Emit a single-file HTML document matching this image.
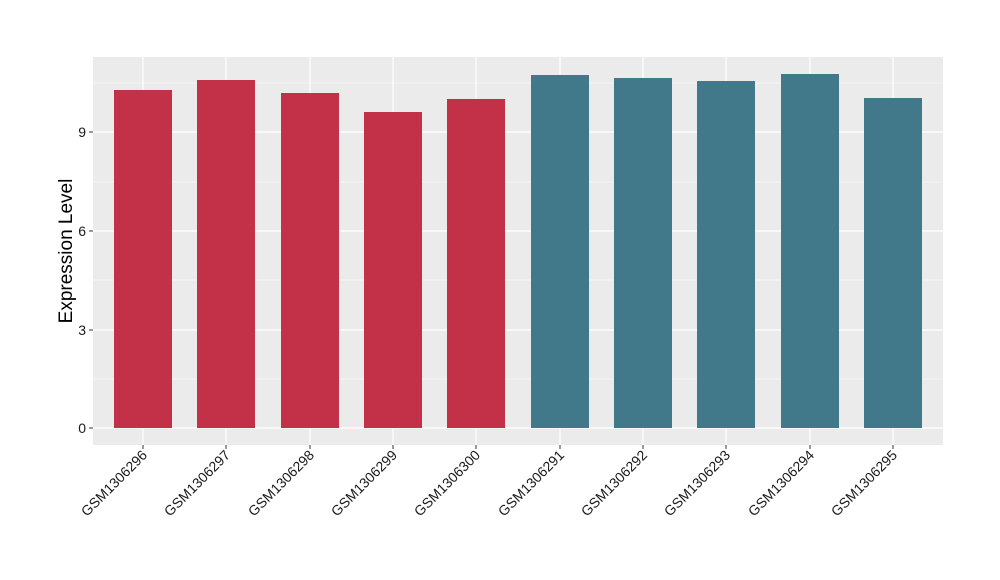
<!DOCTYPE html>
<html><head><meta charset="utf-8"><style>body{margin:0;background:#fff}svg{display:block}text{font-family:"Liberation Sans",Arial,sans-serif}</style></head>
<body>
<svg width="1000" height="580" xmlns="http://www.w3.org/2000/svg">
<rect x="93" y="57" width="850" height="388" fill="#EBEBEB"/>
<g stroke="#fff" stroke-width="0.6">
<line x1="93" x2="943" y1="379" y2="379"/><line x1="93" x2="943" y1="280" y2="280"/><line x1="93" x2="943" y1="182" y2="182"/><line x1="93" x2="943" y1="83" y2="83"/>
</g>
<g stroke="#fff" stroke-width="1.2">
<line x1="93" x2="943" y1="428" y2="428"/><line x1="93" x2="943" y1="330" y2="330"/><line x1="93" x2="943" y1="231" y2="231"/><line x1="93" x2="943" y1="132" y2="132"/>
<line x1="143" x2="143" y1="57" y2="445"/><line x1="226" x2="226" y1="57" y2="445"/><line x1="310" x2="310" y1="57" y2="445"/><line x1="393" x2="393" y1="57" y2="445"/><line x1="476" x2="476" y1="57" y2="445"/><line x1="560" x2="560" y1="57" y2="445"/><line x1="643" x2="643" y1="57" y2="445"/><line x1="726" x2="726" y1="57" y2="445"/><line x1="810" x2="810" y1="57" y2="445"/><line x1="893" x2="893" y1="57" y2="445"/>
</g>
<g fill="#C33149">
<rect x="114" y="90" width="58" height="338"/><rect x="197" y="80" width="58" height="348"/><rect x="281" y="93" width="58" height="335"/><rect x="364" y="112" width="58" height="316"/><rect x="447" y="99" width="58" height="329"/>
</g>
<g fill="#42798A">
<rect x="531" y="75" width="58" height="353"/><rect x="614" y="78" width="58" height="350"/><rect x="697" y="81" width="58" height="347"/><rect x="781" y="74" width="58" height="354"/><rect x="864" y="98" width="58" height="330"/>
</g>
<g stroke="#333" stroke-width="1">
<line x1="89" x2="93" y1="428" y2="428"/><line x1="89" x2="93" y1="330" y2="330"/><line x1="89" x2="93" y1="231" y2="231"/><line x1="89" x2="93" y1="132" y2="132"/>
<line x1="143" x2="143" y1="445" y2="449"/><line x1="226" x2="226" y1="445" y2="449"/><line x1="310" x2="310" y1="445" y2="449"/><line x1="393" x2="393" y1="445" y2="449"/><line x1="476" x2="476" y1="445" y2="449"/><line x1="560" x2="560" y1="445" y2="449"/><line x1="643" x2="643" y1="445" y2="449"/><line x1="726" x2="726" y1="445" y2="449"/><line x1="810" x2="810" y1="445" y2="449"/><line x1="893" x2="893" y1="445" y2="449"/>
</g>
<g font-size="14" fill="#1a1a1a" text-anchor="end">
<text x="86" y="433">0</text><text x="86" y="335">3</text><text x="86" y="236">6</text><text x="86" y="137">9</text>
</g>
<text transform="translate(72,251) rotate(-90)" font-size="19" text-anchor="middle" fill="#000">Expression Level</text>
<g font-size="14" fill="#1a1a1a" text-anchor="end">
<text transform="translate(148,456) rotate(-45)">GSM1306296</text>
<text transform="translate(231,456) rotate(-45)">GSM1306297</text>
<text transform="translate(315,456) rotate(-45)">GSM1306298</text>
<text transform="translate(398,456) rotate(-45)">GSM1306299</text>
<text transform="translate(481,456) rotate(-45)">GSM1306300</text>
<text transform="translate(565,456) rotate(-45)">GSM1306291</text>
<text transform="translate(648,456) rotate(-45)">GSM1306292</text>
<text transform="translate(731,456) rotate(-45)">GSM1306293</text>
<text transform="translate(815,456) rotate(-45)">GSM1306294</text>
<text transform="translate(898,456) rotate(-45)">GSM1306295</text>
</g>
</svg>
</body></html>
